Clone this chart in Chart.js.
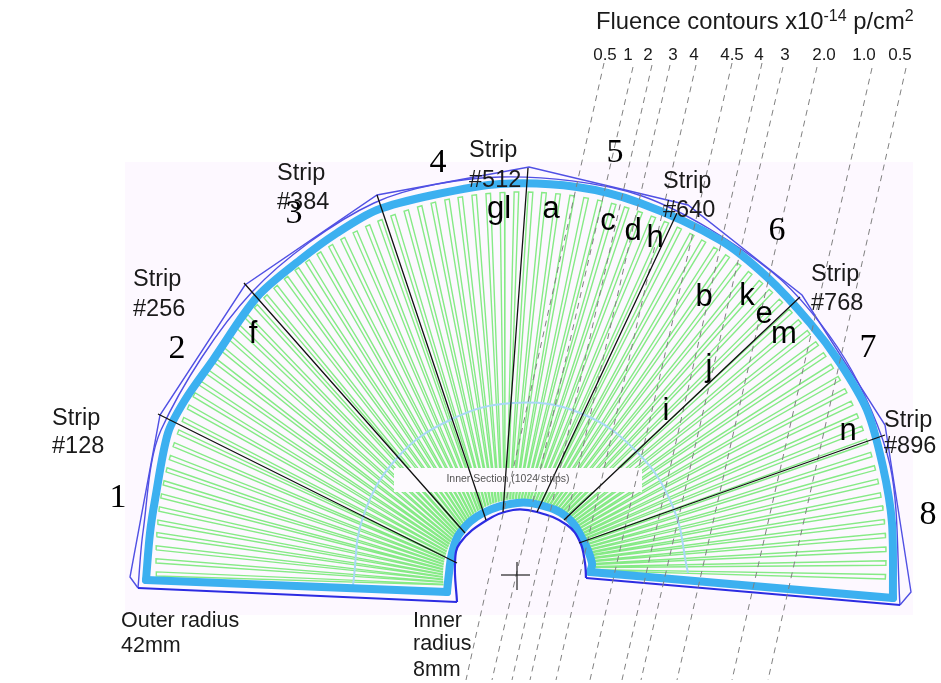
<!DOCTYPE html>
<html>
<head>
<meta charset="utf-8">
<title>Sensor layout with fluence contours</title>
<script src="https://cdn.jsdelivr.net/npm/chart.js@4"></script>
<style>
    body { margin: 0; background: #ffffff; }
    canvas { display: block; }
</style>
</head>
<body>
<canvas id="sensor-chart" width="941" height="683"></canvas>
<script>
// All positions are in drawing units with the cross at the origin, y pointing up.

// Direction of each drawn strip, degrees clockwise from the left edge
const stripAngles = [
    2.1, 4.2, 6.3, 8.4, 10.4, 12.5, 14.6, 16.7, 18.8, 20.8, 22.9, 25.0, 27.1, 29.2, 31.3,
    33.3, 35.4, 37.5, 39.6, 41.7, 43.8, 45.8, 47.9, 50.0, 52.1, 54.2, 56.3, 58.3, 60.4,
    62.5, 64.6, 66.7, 68.8, 70.8, 72.9, 75.0, 77.1, 79.2, 81.3, 83.3, 85.4, 87.5, 89.6,
    91.7, 93.8, 95.8, 97.9, 100.0, 102.1, 104.2, 106.3, 108.3, 110.4, 112.5, 114.6, 116.7,
    118.8, 120.8, 122.9, 125.0, 127.1, 129.2, 131.3, 133.3, 135.4, 137.5, 139.6, 141.7,
    143.8, 145.8, 147.9, 150.0, 152.1, 154.2, 156.3, 158.3, 160.4, 162.5, 164.6, 166.7,
    168.8, 170.8, 172.9, 175.0, 177.1, 179.2, 181.3
];

// Numbered strips, drawn black
const tickNames = ['#128', '#256', '#384', '#512', '#640', '#768', '#896'];
const tickOuterX = [-358, -272, -139, 12, 161, 284, 369];
const tickOuterY = [159, 290, 378, 405, 360, 276, 138];
const tickInnerX = [-59, -51, -30, -13, 21, 48, 63];
const tickInnerY = [10, 40, 53, 61, 61, 53, 30];

// Light blue sensor edge
const outerEdgeX = [-370, -366, -361, -348, -331, -303, -259, -216, -179, -139, -83, -16, 61, 124, 204, 251, 294, 324, 351, 367, 376, 377];
const outerEdgeY = [-7, 40, 73, 140, 173, 213, 276, 313, 340, 363, 378, 389, 386, 370, 333, 296, 250, 210, 163, 106, 50, -25];
const innerEdgeX = [-69, -67, -64, -56, -33, 1, 24, 51, 67, 76, 74];
const innerEdgeY = [-19, 0, 20, 40, 60, 70, 68, 56, 33, 10, 1];

// Dark blue hybrid outlines
const hybridX = [-378, -386, -356, -271, -139, 13, 172, 286, 369, 395, 384];
const hybridY = [-15, -4, 158, 288, 378, 406, 368, 278, 148, -19, -32];
const hybridArcX = [-378, -373, -355, -264, -142, -16, 126, 256, 329, 374, 384];
const hybridArcY = [-15, 41, 143, 281, 370, 396, 377, 301, 214, 108, -32];
const hybridInnerX = [-59, -61, -56, -29, -3, 21, 51, 64, 69, 70];
const hybridInnerY = [-29, 10, 30, 53, 63, 61, 48, 31, 10, -5];

// Boundary of the inner section
const sectionX = [-163, -153, -119, -66, -3, 64, 121, 157, 172];
const sectionY = [-12, 56, 115, 153, 170, 160, 121, 66, 0];

// Fluence contours
const contourLabels = ['0.5', '1', '2', '3', '4', '4.5', '4', '3', '2.0', '1.0', '0.5'];
const contourLabelX = [89, 112, 132, 157, 178, 216, 243, 269, 308, 348, 384];
const contourTopX = [88, 117, 136, 154, 180, 216, 246, 267, 301, 356, 390];
const contourTopY = [510, 506, 508, 508, 508, 510, 510, 506, 506, 505, 505];
const contourBottomX = [-50, -24, -4, 14, 40, 74, 106, 125, 161, 216, 252];

// Hybrid section numbers
const sectionNames = ['1', '2', '3', '4', '5', '6', '7', '8'];
const sectionNameX = [-398, -339, -222, -78, 99, 261, 352, 412];
const sectionNameY = [66, 215, 350, 401, 411, 333, 216, 49];

// Chip letters
const chipNames = ['gl', 'a', 'c', 'd', 'h', 'b', 'k', 'e', 'm', 'j', 'i', 'n', 'f'];
const chipNameX = [-17, 35, 92, 117, 139, 188, 231, 248, 268, 193, 150, 332, -263];
const chipNameY = [355, 355, 343, 333, 326, 267, 268, 250, 230, 197, 153, 133, 230];

// Strip name positions
const tickLabelX = [-464, -383, -239, -47, 147, 295, 368];
const tickLabelTop = [148, 287, 393, 416, 385, 292, 146];
const tickLabelLow = [120, 257, 364, 386, 356, 263, 120];

function toPoints(xs, ys) {
    return xs.map((x, i) => ({ x, y: ys[i] }));
}

// Strips fan out from a pivot that drifts a little along the cut, and stop
// at the inner and outer edges.
function pointOnCircle(px, py, deg, cx, cy, r) {
    const rad = deg * Math.PI / 180;
    const dx = -Math.cos(rad);
    const dy = Math.sin(rad);
    const fx = px - cx;
    const fy = py - cy;
    const b = fx * dx + fy * dy;
    const t = -b + Math.sqrt(b * b - (fx * fx + fy * fy - r * r));
    return { x: px + t * dx, y: py + t * dy };
}

function stripOutlines() {
    const points = [];
    const halfWidth = 0.34;
    stripAngles.forEach(angle => {
        const px = -11;
        const py = -14 + 19 * angle / 182;
        points.push(pointOnCircle(px, py, angle - halfWidth, 3, -2, 76));
        points.push(pointOnCircle(px, py, angle - halfWidth, 5, 16, 365));
        points.push(pointOnCircle(px, py, angle + halfWidth, 5, 16, 365));
        points.push(pointOnCircle(px, py, angle + halfWidth, 3, -2, 76));
        points.push({ x: NaN, y: NaN });
    });
    return points;
}

function segments(x1, y1, x2, y2) {
    const points = [];
    x1.forEach((x, i) => {
        points.push({ x, y: y1[i] }, { x: x2[i], y: Array.isArray(y2) ? y2[i] : y2 }, { x: NaN, y: NaN });
    });
    return points;
}

function line(data, color, width, extra = {}) {
    return { data, borderColor: color, borderWidth: width, pointRadius: 0, showLine: true, clip: false, ...extra };
}

function panel(x1, y1, x2, y2, color) {
    const data = [{ x: x1, y: y1 }, { x: x2, y: y1 }, { x: x2, y: y2 }, { x: x1, y: y2 }, { x: x1, y: y1 }];
    return line(data, 'rgba(0,0,0,0)', 0, { fill: 'shape', backgroundColor: color });
}

const bandBlue = '#3CB0F0';
const hybridBlue = '#5050E4';
const darkBlue = '#2C2CE2';

// Listed in paint order, background first
const layers = [
    panel(-391, 411, 397, -42, '#FDF8FF'),
    line(stripOutlines(), '#86EA86', 1.4),
    panel(-122, 105, 126, 81, '#FDFAFE'),
    line(toPoints(sectionX, sectionY), '#A9D9F5', 2, { tension: 0.4 }),
    line(toPoints(hybridX, hybridY), hybridBlue, 1.4),
    line(toPoints(hybridArcX, hybridArcY), hybridBlue, 1.4, { tension: 0.3 }),
    line(toPoints(outerEdgeX, outerEdgeY), bandBlue, 8, { tension: 0.3, borderCapStyle: 'round' }),
    line(toPoints(innerEdgeX, innerEdgeY), bandBlue, 8, { tension: 0.4, borderCapStyle: 'round' }),
    line(toPoints([-370, -69], [-7, -19]), bandBlue, 8, { borderCapStyle: 'round' }),
    line(toPoints([74, 377], [1, -25]), bandBlue, 8, { borderCapStyle: 'round' }),
    line(toPoints(hybridInnerX, hybridInnerY), darkBlue, 2.2, { tension: 0.4 }),
    line(toPoints([-378, -59], [-15, -29]), darkBlue, 2),
    line(toPoints([70, 384], [-5, -32]), darkBlue, 2),
    line(segments(contourTopX, contourTopY, contourBottomX, -107), '#808080', 1, { borderDash: [6, 5] }),
    line(segments(tickOuterX, tickOuterY, tickInnerX, tickInnerY), '#111111', 1.3),
    line(toPoints([-15, 14], [-2, -2]), '#222222', 1.2),
    line(toPoints([1, 1], [11, -17]), '#222222', 1.2)
];

const labelsPlugin = {
    id: 'sensorLabels',
    afterDatasetsDraw(chart) {
        const { ctx, scales } = chart;
        const put = (text, x, y, font, align = 'left', color = '#1a1a1a') => {
            ctx.font = font;
            ctx.textAlign = align;
            ctx.textBaseline = 'alphabetic';
            ctx.fillStyle = color;
            ctx.fillText(text, scales.x.getPixelForValue(x), scales.y.getPixelForValue(y));
        };
        const sans = '"Liberation Sans"';
        const serif = '"Liberation Serif"';
        ctx.save();

        // Title with its superscripts, each piece follows the one before
        const titleSize = `23.8px ${sans}`;
        const superSize = `16px ${sans}`;
        let titleX = 80;
        [['Fluence contours x10', titleSize, 544], ['-14', superSize, 552], [' p/cm', titleSize, 544], ['2', superSize, 552]].forEach(([text, font, y]) => {
            put(text, titleX, y, font);
            titleX += ctx.measureText(text).width;
        });

        contourLabels.forEach((text, i) => put(text, contourLabelX[i], 513, `17px ${sans}`, 'center'));
        tickNames.forEach((text, i) => {
            put('Strip', tickLabelX[i], tickLabelTop[i], `23.5px ${sans}`);
            put(text, tickLabelX[i], tickLabelLow[i], `23.5px ${sans}`);
        });
        sectionNames.forEach((text, i) => put(text, sectionNameX[i], sectionNameY[i], `34px ${serif}`, 'center', '#000000'));
        chipNames.forEach((text, i) => put(text, chipNameX[i], chipNameY[i], `31px ${sans}`, 'center', '#000000'));

        put('Outer radius', -395, -54, `21.5px ${sans}`);
        put('42mm', -395, -79, `21.5px ${sans}`);
        put('Inner', -103, -54, `21.5px ${sans}`);
        put('radius', -103, -77, `21.5px ${sans}`);
        put('8mm', -103, -103, `21.5px ${sans}`);
        put('Inner Section (1024 strips)', -8, 91, `10.5px ${sans}`, 'center', '#555555');
        ctx.restore();
    }
};

new Chart(document.getElementById('sensor-chart').getContext('2d'), {
    type: 'scatter',
    data: { datasets: layers.slice().reverse() },
    options: {
        responsive: false,
        animation: false,
        events: [],
        layout: { padding: 0 },
        plugins: { legend: { display: false }, tooltip: { enabled: false } },
        scales: {
            x: { type: 'linear', display: false, min: -516, max: 425 },
            y: { type: 'linear', display: false, min: -110, max: 573 }
        }
    },
    plugins: [labelsPlugin]
});
</script>
</body>
</html>
